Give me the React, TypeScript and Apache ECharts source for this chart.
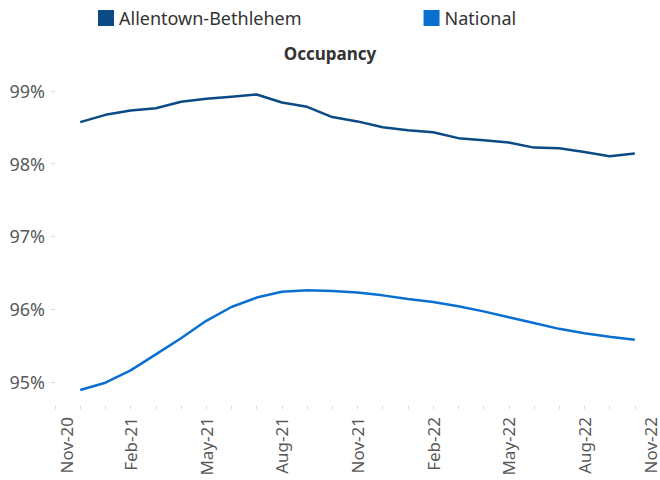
import React, { useEffect, useRef } from "react";
import * as echarts from "echarts";

const months = [
  "Nov-20", "Dec-20", "Jan-21", "Feb-21", "Mar-21", "Apr-21", "May-21", "Jun-21", "Jul-21",
  "Aug-21", "Sep-21", "Oct-21", "Nov-21", "Dec-21", "Jan-22", "Feb-22", "Mar-22", "Apr-22",
  "May-22", "Jun-22", "Jul-22", "Aug-22", "Sep-22", "Oct-22", "Nov-22",
];

// Dec-20 .. Oct-22
const allentown = [
  98.57, 98.67, 98.73, 98.76, 98.85, 98.89, 98.92, 98.95, 98.84, 98.78, 98.64, 98.58,
  98.5, 98.46, 98.43, 98.35, 98.32, 98.29, 98.22, 98.21, 98.16, 98.1, 98.14,
];
const national = [
  94.89, 94.99, 95.16, 95.38, 95.6, 95.84, 96.03, 96.16, 96.24, 96.26, 96.25, 96.23,
  96.19, 96.14, 96.1, 96.04, 95.97, 95.89, 95.81, 95.73, 95.67, 95.62, 95.58,
];

const yTicks = [95, 96, 97, 98, 99];

const FONT = "Noto Sans";
const GREY = "#595959";

export default function App() {
  const ref = useRef<HTMLDivElement>(null);
  useEffect(() => {
    if (!ref.current) return;
    const chart = echarts.init(ref.current, null, { renderer: "svg" });
    const pad = (arr: number[]) => [null, ...arr, null];
    chart.setOption({
      animation: false,
      backgroundColor: "#ffffff",
      textStyle: { fontFamily: FONT },
      title: {
        text: "Occupancy",
        left: "center",
        top: 40,
        textStyle: { fontFamily: FONT, fontSize: 17, fontWeight: "bold", color: "#333333" },
      },
      legend: {
        left: 98,
        top: 9,
        itemWidth: 16,
        itemHeight: 16,
        itemGap: 122,
        icon: "rect",
        padding: 0,
        textStyle: { fontFamily: FONT, fontSize: 18, color: "#333333" },
        data: ["Allentown-Bethlehem", "National"],
      },
      grid: { left: 55, right: -3, top: 69, bottom: 74, containLabel: false },
      xAxis: {
        type: "category",
        data: months,
        boundaryGap: false,
        axisLine: { show: false },
        axisTick: { show: true, interval: 0, length: 3, lineStyle: { color: "#d9d9d9" } },
        axisLabel: {
          interval: 2,
          rotate: 90,
          margin: 11,
          fontFamily: FONT,
          fontSize: 17,
          color: GREY,
          formatter: (val: string, idx: number) =>
            idx === 0 ? "{a|" + val + "}" : idx === months.length - 1 ? "{b|" + val + "}" : val,
          rich: {
            a: { fontFamily: FONT, fontSize: 17, color: GREY, padding: [22, 0, 0, 0] },
            b: { fontFamily: FONT, fontSize: 17, color: GREY, padding: [0, 0, 20, 0] },
          },
        },
        splitLine: { show: false },
      },
      yAxis: {
        type: "value",
        min: 94.67,
        max: 99.3,
        axisLine: { show: false },
        axisTick: { show: true, length: 4, lineStyle: { color: "#d9d9d9" }, customValues: yTicks },
        axisLabel: {
          customValues: yTicks,
          margin: 10,
          fontFamily: FONT,
          fontSize: 18,
          color: GREY,
          formatter: (v: number) => Math.round(v) + "%",
        },
        splitLine: { show: false },
      },
      series: [
        {
          name: "Allentown-Bethlehem",
          type: "line",
          data: pad(allentown),
          symbol: "none",
          lineStyle: { width: 2.5, color: "#0C4A86" },
          itemStyle: { color: "#0C4A86" },
        },
        {
          name: "National",
          type: "line",
          data: pad(national),
          symbol: "none",
          lineStyle: { width: 2.5, color: "#0A70CF" },
          itemStyle: { color: "#0A70CF" },
        },
      ],
    });
    return () => chart.dispose();
  }, []);
  return (
    <div
      ref={ref}
      style={{ position: "absolute", left: 0, top: 0, width: 660, height: 480 }}
    />
  );
}
